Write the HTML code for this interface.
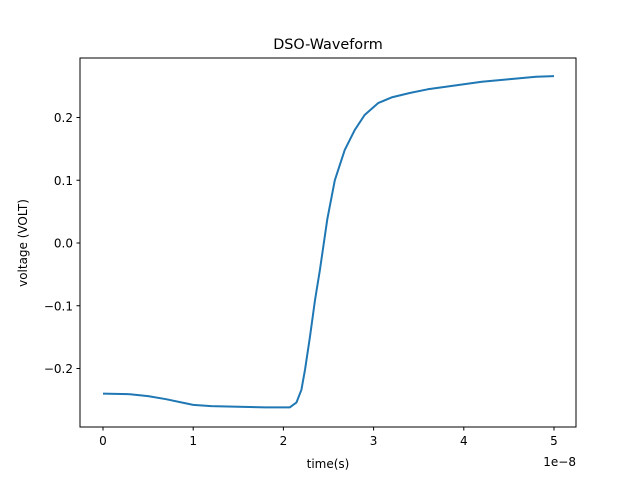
<!DOCTYPE html>
<html><head><meta charset="utf-8"><style>
body{margin:0;background:#fff}
svg text{font-family:"DejaVu Sans","Liberation Sans",sans-serif;fill:#000}
</style></head><body>
<svg id="chart" width="640" height="480" xmlns="http://www.w3.org/2000/svg">
<rect width="640" height="480" fill="#fff"/>
<text x="328" y="49" font-size="14.4" text-anchor="middle">DSO-Waveform</text>
<text x="328" y="468" font-size="12" text-anchor="middle">time(s)</text>
<text x="27" y="243" font-size="12" text-anchor="middle" transform="rotate(-90 27 243)">voltage (VOLT)</text>
<text x="576" y="466" font-size="12" text-anchor="end">1e−8</text>
<g id="ticks"></g>
<polyline id="line" fill="none" stroke="#1f77b4" stroke-width="2" stroke-linejoin="round"/>
<rect x="80" y="58" width="496" height="369" fill="none" stroke="#000" stroke-width="1"/>
</svg>
<script>
const times = [0,0.3,0.5,0.7,0.9,1.0,1.2,1.5,1.8,2.0,2.07,2.145,2.20,2.24,2.295,2.35,2.405,2.487,2.57,2.68,2.79,2.90,3.05,3.2,3.4,3.6,3.8,4.0,4.2,4.5,4.8,5.0];
const volts = [-0.24,-0.241,-0.244,-0.249,-0.255,-0.258,-0.26,-0.261,-0.262,-0.262,-0.262,-0.254,-0.234,-0.202,-0.149,-0.091,-0.043,0.038,0.100,0.148,0.18,0.204,0.223,0.232,0.239,0.245,0.249,0.253,0.257,0.261,0.265,0.266];
const xTicks = [0,1,2,3,4,5];
const yTicks = [-0.2,-0.1,0.0,0.1,0.2];
const yTickLabels = ["−0.2","−0.1","0.0","0.1","0.2"];
function xs(t){return 103+(t-0)*90.2;}
function ys(v){return 243-v*627.5;}
const NS="http://www.w3.org/2000/svg";
const g=document.getElementById('ticks');
xTicks.forEach(t=>{
  const l=document.createElementNS(NS,'line');
  l.setAttribute('x1',xs(t));l.setAttribute('x2',xs(t));l.setAttribute('y1',427);l.setAttribute('y2',430.5);l.setAttribute('stroke','#000');
  
  
  g.appendChild(l);
  const tx=document.createElementNS(NS,'text');
  tx.setAttribute('x',xs(t));tx.setAttribute('y',445);tx.setAttribute('font-size','12');tx.setAttribute('text-anchor','middle');tx.textContent=String(t);
  
  
  g.appendChild(tx);
});
yTicks.forEach((v,i)=>{
  const l=document.createElementNS(NS,'line');
  l.setAttribute('x1',76.5);l.setAttribute('x2',80);l.setAttribute('y1',ys(v));l.setAttribute('y2',ys(v));l.setAttribute('stroke','#000');
  
  
  g.appendChild(l);
  const tx=document.createElementNS(NS,'text');
  tx.setAttribute('x',73);tx.setAttribute('y',ys(v)+4.5);tx.setAttribute('font-size','12');tx.setAttribute('text-anchor','end');tx.textContent=yTickLabels[i];
  
  
  g.appendChild(tx);
});
document.getElementById('line').setAttribute('points',times.map((t,i)=>xs(t).toFixed(1)+','+ys(volts[i]).toFixed(1)).join(' '));
</script>
</body></html>
